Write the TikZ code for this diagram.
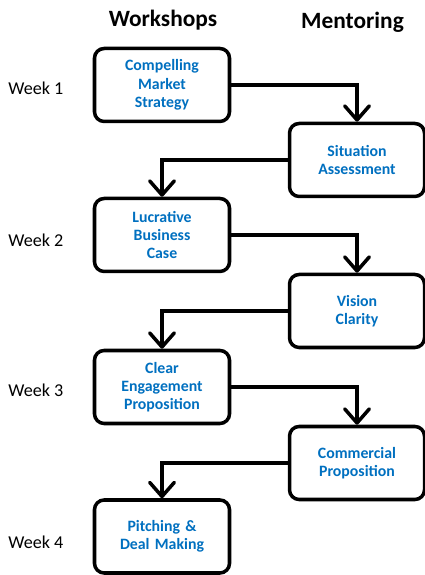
\documentclass[tikz,border=0pt]{standalone}
\usepackage{fontspec}
\setmainfont{Carlito}
\definecolor{StepBlue}{HTML}{0070C0}
\usepackage{tikz}
\usetikzlibrary{arrows.meta,positioning}

\begin{document}
\begin{tikzpicture}[
      stage/.style={draw=black,line width=2pt,rounded corners=5.5pt,fill=white,
                    minimum width=2.7cm,minimum height=1.46cm,text width=2.5cm,
                    align=center,inner sep=2pt,font=\fontsize{9}{10.4}\selectfont\bfseries,
                    text=StepBlue},
      flow/.style={-{Straight Barb[length=8pt,width=14pt,round]},line width=2pt,
                   draw=black},
      head/.style={font=\fontsize{13.3}{14}\selectfont\bfseries},
      week/.style={font=\fontsize{10.3}{12}\selectfont,anchor=west,inner sep=0pt}]
    \useasboundingbox (0,0) rectangle (8.5,11.5);
    % column titles
    \node[head] (hws) at (3.26,11.1) {Workshops};
    \node[head] (hmt) at (7.05,11.06) {Mentoring};
    % workshops (left) and mentoring (right)
    \node[stage] (ws1) at (3.24,9.8)  {Compelling\\Market\\Strategy};
    \node[stage] (mt1) at (7.14,8.3)  {Situation\\Assessment};
    \node[stage] (ws2) at (3.24,6.8)  {Lucrative\\Business\\Case};
    \node[stage] (mt2) at (7.14,5.28) {Vision\\Clarity};
    \node[stage] (ws3) at (3.24,3.76) {Clear\\Engagement\\Proposition};
    \node[stage] (mt3) at (7.14,2.24) {Commercial\\Proposition};
    \node[stage] (ws4) at (3.24,0.77) {Pitching \&\\Deal Making};
    % weeks
    \node[week] (wk1) at (0.16,9.74) {Week 1};
    \node[week] (wk2) at (0.16,6.7)  {Week 2};
    \node[week] (wk3) at (0.16,3.7)  {Week 3};
    \node[week] (wk4) at (0.16,0.66) {Week 4};
    % zig-zag
    \draw[flow] (ws1.east) -| (mt1.north);
    \draw[flow] (mt1.west) -| (ws2.north);
    \draw[flow] (ws2.east) -| (mt2.north);
    \draw[flow] (mt2.west) -| (ws3.north);
    \draw[flow] (ws3.east) -| (mt3.north);
    \draw[flow] (mt3.west) -| (ws4.north);
  \end{tikzpicture}
\end{document}
